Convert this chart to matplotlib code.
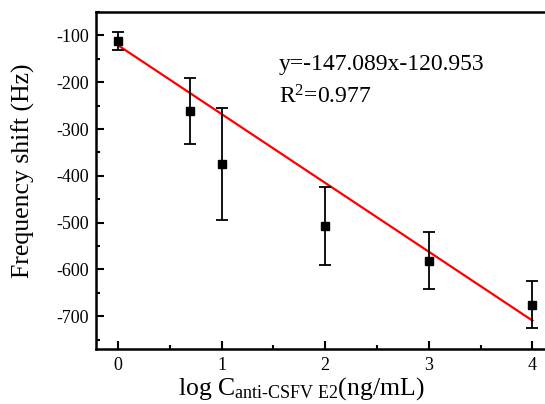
import numpy as np
import matplotlib.pyplot as plt
from matplotlib.ticker import MultipleLocator

# data
logC = [0, 0.699, 1, 2, 3, 4]
shift = [-112, -262, -375, -507, -581, -675]
errs = [20, 70, 120, 84, 60, 50]

slope = -147.089
intercept = -120.953

plt.rcParams['font.family'] = 'Liberation Serif'
plt.rcParams['mathtext.fontset'] = 'custom'
plt.rcParams['mathtext.rm'] = 'Liberation Serif'
plt.rcParams['mathtext.it'] = 'Liberation Serif:italic'
plt.rcParams['axes.unicode_minus'] = False

fig = plt.figure(figsize=(5.45, 4.04), dpi=100)
ax = fig.add_axes([96/545, 1-349/404, 452/545, 337/404])

xfit = np.array([logC[0], logC[-1]])
ax.plot(xfit, slope*xfit + intercept, color='red', lw=1.6, zorder=2)
ax.errorbar(logC, shift, yerr=errs, fmt='s', color='black', ms=5.5,
            ecolor='black', elinewidth=1.3, capsize=4, capthick=1.3, zorder=3)

ax.set_xlim(-0.212, 4.15)
ax.set_ylim(-770, -50)
ax.xaxis.set_major_locator(MultipleLocator(1))
ax.xaxis.set_minor_locator(MultipleLocator(0.5))
ax.yaxis.set_major_locator(MultipleLocator(100))
ax.yaxis.set_minor_locator(MultipleLocator(50))
ax.tick_params(which='both', direction='in', width=1.5, labelsize=13)
ax.tick_params(which='major', length=6)
ax.tick_params(which='minor', length=3)
ax.tick_params(axis='x', which='major', pad=6)
ax.tick_params(axis='y', which='major', pad=5)
for sp in ax.spines.values():
    sp.set_linewidth(1.8)

ax.set_ylabel('Frequency shift (Hz)', fontsize=18.5)
ax.yaxis.set_label_coords(-0.134, 0.528, transform=ax.transAxes)
ax.set_xlabel(r'log C$_{\text{anti-CSFV E2}}$(ng/mL)', fontsize=18.5, labelpad=0)
ax.xaxis.set_label_coords(0.455, -0.134, transform=ax.transAxes)
ax.xaxis.label.set_va('baseline')

ax.text(1.55, -162, 'y=-147.089x-120.953', fontsize=17, va='center')
ax.text(1.55, -232, r'R$^2$=0.977', fontsize=17, va='center')

fig.savefig('out.png', dpi=100)
